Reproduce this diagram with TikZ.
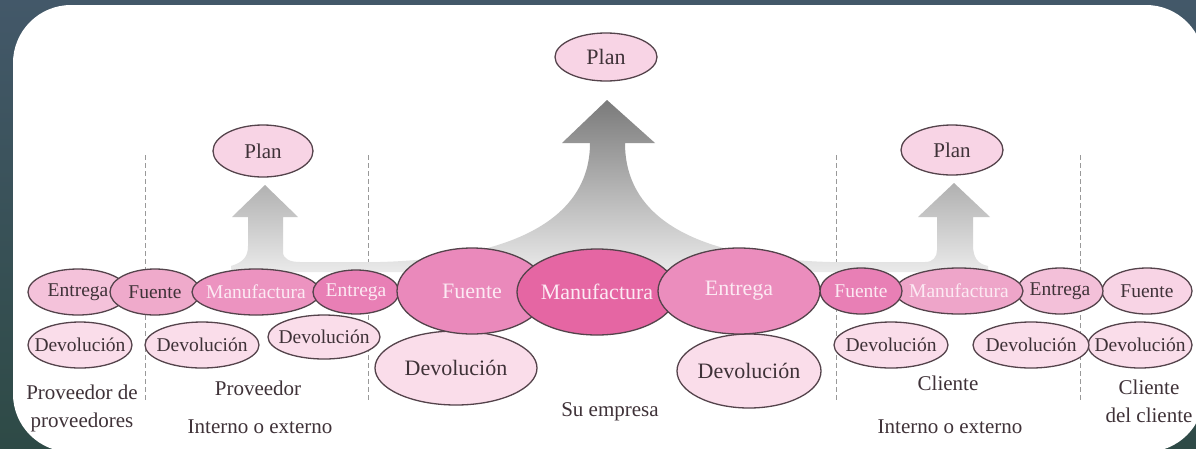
\documentclass[tikz,border=0pt]{standalone}
\usepackage{fontspec}
\setmainfont{Liberation Serif}
\usetikzlibrary{shapes.geometric}
\definecolor{bgtop}{HTML}{435869}
\definecolor{bgbot}{HTML}{2E4A46}
\definecolor{edgec}{HTML}{54434B}
\definecolor{ink}{HTML}{3F3238}
\definecolor{paleink}{HTML}{FCEAF3}
\definecolor{devfill}{HTML}{FADDEA}
\definecolor{planfill}{HTML}{F8D4E5}
\definecolor{pinkI}{HTML}{F8D4E5}
\definecolor{pinkII}{HTML}{F4C2DA}
\definecolor{pinkIII}{HTML}{EFAACB}
\definecolor{pinkIV}{HTML}{EC93C0}
\definecolor{pinkV}{HTML}{E87FB5}
\definecolor{pinkVI}{HTML}{E566A3}
\definecolor{arrowtop}{HTML}{7A7A7A}
\definecolor{arrowbot}{HTML}{EAEAEA}
\newcommand{\nb}[1]{\makebox[0pt]{#1}}

\begin{document}
\begin{tikzpicture}[x=1pt,y=-1pt,
	proc/.style={ellipse, draw=edgec, line width=1.3pt, inner sep=0pt, text=ink,
		font=\fontsize{19.5}{22}\selectfont},
	bigproc/.style={proc, font=\fontsize{22}{24}\selectfont},
	lite/.style={text=paleink},
	lbl/.style={text=ink, align=center, font=\fontsize{21}{28}\selectfont},
	divline/.style={draw=gray!80, line width=1pt, dash pattern=on 5pt off 3pt}]
	
	\useasboundingbox (0,0) rectangle (1196,448);
	
	%----------------------------
	% Background and white panel
	%----------------------------
	\shade[top color=bgtop, bottom color=bgbot] (0,0) rectangle (1196,448);
	\fill[white, rounded corners=58pt] (13,5) rectangle (1204,452);
	
	%----------------------------
	% Dividers between the links of the chain
	%----------------------------
	\foreach \x in {145,368,836,1080}
	\draw[divline] (\x,155) -- (\x,400);
	
	%----------------------------
	% Gray arrows up to the three plans
	%----------------------------
	\shade[top color=arrowtop, bottom color=arrowbot]
	(231,272) -- (231,266) .. controls (244,262) and (248,256) .. (248,246)
	-- (248,217) -- (232,217) -- (265,185) -- (298,217) -- (283,217)
	-- (283,252) .. controls (283,259) and (290,262) .. (300,262)
	-- (380,262) .. controls (520,258) and (590,215) .. (590,143)
	-- (562,143) -- (607,100) -- (655,143) -- (625,143)
	.. controls (625,215) and (690,258) .. (830,262)
	-- (925,262) .. controls (933,262) and (937,257) .. (937,250)
	-- (937,217) -- (918,217) -- (954,183) -- (990,217) -- (973,217)
	-- (973,245) .. controls (973,258) and (978,264) .. (988,266)
	-- (988,272) -- cycle;
	
	% plans
	\node[proc, fill=planfill, minimum width=100pt, minimum height=52pt,
	font=\fontsize{21}{24}\selectfont] (planA) at (263,151) {\nb{Plan}};
	\node[proc, fill=planfill, minimum width=102pt, minimum height=48pt,
	font=\fontsize{22}{24}\selectfont] (planB) at (606,57) {\nb{Plan}};
	\node[proc, fill=planfill, minimum width=102pt, minimum height=50pt,
	font=\fontsize{21}{24}\selectfont] (planC) at (952,150) {\nb{Plan}};
	
	%----------------------------
	% Returns (bottom row)
	%----------------------------
	\node[bigproc, fill=devfill, minimum width=162pt, minimum height=74pt] (devD) at (456,368) {\nb{Devolución}};
	\node[bigproc, fill=devfill, minimum width=144pt, minimum height=74pt] (devE) at (749,371) {\nb{Devolución}};
	\node[proc, fill=devfill, minimum width=104pt, minimum height=46pt] (devA) at (80,345) {\nb{Devolución}};
	\node[proc, fill=devfill, minimum width=114pt, minimum height=46pt] (devB) at (202,345) {\nb{Devolución}};
	\node[proc, fill=devfill, minimum width=112pt, minimum height=44pt] (devC) at (324,337) {\nb{Devolución}};
	\node[proc, fill=devfill, minimum width=114pt, minimum height=46pt] (devF) at (891,345) {\nb{Devolución}};
	\node[proc, fill=devfill, minimum width=104pt, minimum height=46pt] (devH) at (1140,345) {\nb{Devolución}};
	\node[proc, fill=devfill, minimum width=116pt, minimum height=46pt] (devG) at (1031,345) {\nb{Devolución}};
	
	%----------------------------
	% Left: suppliers
	%----------------------------
	\node[proc, fill=pinkII, minimum width=100pt, minimum height=46pt] (entA) at (78,292) {\nb{Entrega}};
	\node[proc, fill=pinkIII, minimum width=90pt, minimum height=46pt] (fueA) at (155,292) {\nb{Fuente}};
	\node[proc, lite, fill=pinkIV, minimum width=128pt, minimum height=46pt] (manA) at (256,292) {\nb{Manufactura}};
	\node[proc, lite, fill=pinkV, minimum width=86pt, minimum height=44pt] (entB) at (356,292) {\nb{Entrega}};
	
	%----------------------------
	% Middle: the company
	%----------------------------
	\node[bigproc, lite, fill=pinkV!92!white, minimum width=150pt, minimum height=86pt] (fueB) at (472,291) {\nb{Fuente}};
	\node[bigproc, lite, fill=pinkVI, minimum width=160pt, minimum height=86pt] (manB) at (597,292) {\nb{Manufactura}};
	
	%----------------------------
	% Right: customers (drawn right to left)
	%----------------------------
	\node[proc, fill=pinkI, minimum width=90pt, minimum height=46pt] (fueD) at (1147,291) {\nb{Fuente}};
	\node[proc, fill=pinkII!90!pinkIII, minimum width=86pt, minimum height=46pt] (entD) at (1060,291) {\nb{Entrega}};
	\node[proc, lite, fill=pinkIII!80!pinkIV, minimum width=128pt, minimum height=46pt] (manC) at (959,291) {\nb{Manufactura}};
	\node[proc, lite, fill=pinkV, minimum width=82pt, minimum height=46pt] (fueC) at (861,291) {\nb{Fuente}};
	\node[bigproc, lite, fill=pinkIV!70!pinkV, minimum width=162pt, minimum height=86pt] (entC) at (739,291) {\nb{Entrega}};
	
	%----------------------------
	% Labels under the chain
	%----------------------------
	\node[lbl] (provprov) at (82,408) {Proveedor de\\proveedores};
	\node[lbl] (prov) at (258,388) {Proveedor};
	\node[lbl] (provkind) at (260,427) {Interno o externo};
	\node[lbl] (empresa) at (610,412) {Su empresa};
	\node[lbl] (cli) at (948,383) {Cliente};
	\node[lbl] (clikind) at (950,427) {Interno o externo};
	\node[lbl] (clicli) at (1149,401) {Cliente\\del cliente};
	
\end{tikzpicture}
\end{document}
